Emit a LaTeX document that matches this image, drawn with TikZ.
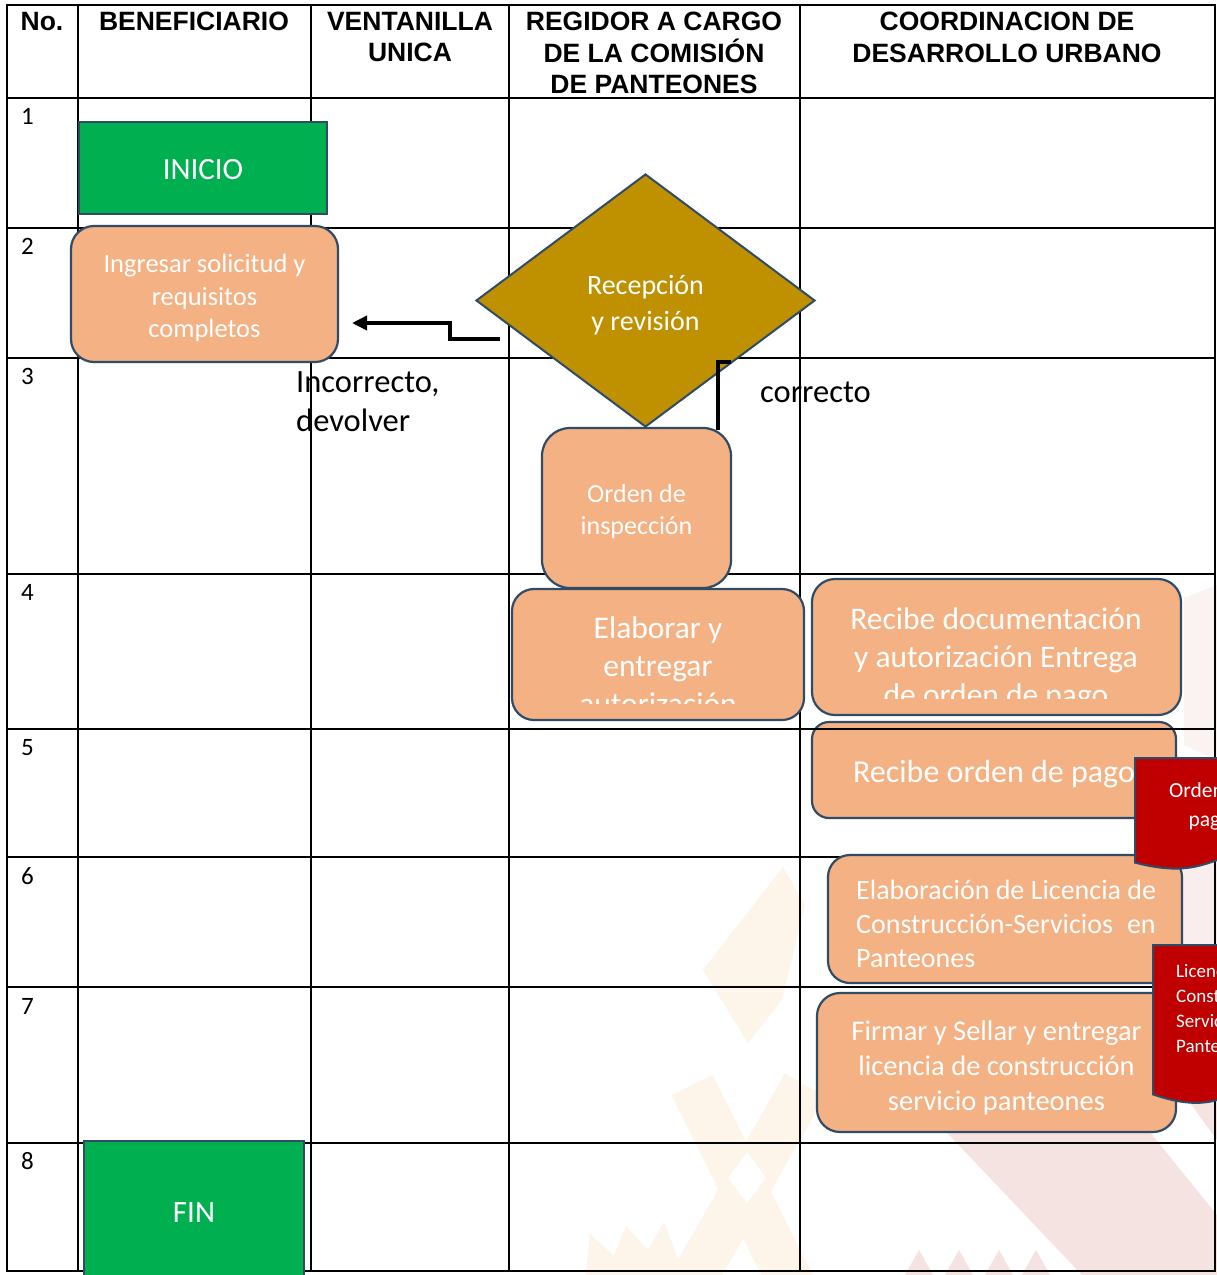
\documentclass[tikz,border=0pt]{standalone}
\usepackage{fontspec}
\setmainfont{Carlito}
\newfontfamily\hdr{Liberation Sans}
\usetikzlibrary{shapes.geometric,arrows.meta}
\definecolor{edge}{HTML}{2F4B66}
\definecolor{gbox}{HTML}{00B050}
\definecolor{obox}{HTML}{F4B183}
\definecolor{gold}{HTML}{BF9000}
\definecolor{rdoc}{HTML}{C00000}
\definecolor{beige}{HTML}{FDF4EA}
\definecolor{pinkw}{HTML}{F5E3E1}
\begin{document}
\begin{tikzpicture}[x=1pt,y=-1pt,
  tline/.style={line width=2.6pt,black,line cap=rect},
  hdrtxt/.style={font=\hdr\bfseries\fontsize{26.5}{31.5}\selectfont,align=center,inner sep=0pt,anchor=north},
  rownum/.style={font=\fontsize{25}{30}\selectfont,inner sep=0pt,anchor=base west},
  startend/.style={draw=edge,line width=2pt,fill=gbox,text=white,inner sep=0pt,font=\fontsize{31}{36}\selectfont},
  box/.style={draw=edge,line width=2.2pt,fill=obox,rounded corners=#1,inner sep=0pt},
  box/.default=22pt,
  bodytxt/.style={text=white,inner sep=0pt,align=center},
  docshape/.style={draw=edge,line width=2pt,fill=rdoc},
  conn/.style={line width=3.5pt,black},
  lbl/.style={inner sep=0pt,font=\fontsize{32.5}{39}\selectfont}
]
\path[use as bounding box,clip] (0,0) rectangle (1217,1275);
\fill[white] (0,0) rectangle (1217,1275);

% faint background watermark
\fill[beige] (783,867) -- (805,905) -- (782,1000) -- (748,1043) -- (703,970) -- cycle;
\draw[beige,line width=46pt] (692,1085) -- (792,1285);
\draw[beige,line width=46pt] (805,1085) -- (690,1285);
\fill[white] (747,1152) -- (766,1178) -- (747,1203) -- (728,1178) -- cycle;
\fill[beige] (586,1275) -- (590,1234) -- (614,1256) -- (626,1226) -- (648,1250) -- (664,1222) -- (684,1275) -- cycle;
\fill[pinkw] (935,1120) -- (1140,1120) -- (1217,1215) -- (1217,1275) -- (1082,1275) -- cycle;
\fill[pinkw] (1172,1078) -- (1217,1078) -- (1217,1140) -- cycle;
\foreach \tx in {905,945,985,1022}{
  \fill[pinkw] (\tx,1275) -- (\tx+14,1250) -- (\tx+28,1275) -- cycle;}
\fill[pinkw!60] (1183,860) -- (1217,860) -- (1217,945) -- (1183,945) -- cycle;
\fill[pinkw!45] (1184,598) -- (1217,585) -- (1217,760) -- (1184,745) -- cycle;

% table grid
\foreach \gx in {7,78,311,509,800,1215}{\draw[tline] (\gx,5) -- (\gx,1271);}
\foreach \gy in {5,98,228,358,574,729,857,987,1143,1271}{\draw[tline] (7,\gy) -- (1215,\gy);}

% headers
\node[hdrtxt] (hno) at (42,12) {No.};
\node[hdrtxt] (hben) at (194,12) {BENEFICIARIO};
\node[hdrtxt] (hven) at (410,12) {VENTANILLA\\UNICA};
\node[hdrtxt] (hreg) at (654,12) {REGIDOR A CARGO\\DE LA COMISIÓN\\DE PANTEONES};
\node[hdrtxt] (hcoo) at (1007,12) {COORDINACION DE\\DESARROLLO URBANO};

% row numbers
\node[rownum] (r1) at (21,124) {1};
\node[rownum] (r2) at (21,254) {2};
\node[rownum] (r3) at (21,384) {3};
\node[rownum] (r4) at (21,600) {4};
\node[rownum] (r5) at (21,755) {5};
\node[rownum] (r6) at (21,884) {6};
\node[rownum] (r7) at (21,1014) {7};
\node[rownum] (r8) at (21,1169) {8};

% shapes
\node[startend,minimum width=248pt,minimum height=92pt] (inicio) at (203,168) {};
\node[bodytxt,font=\fontsize{31}{36}\selectfont] (iniciot) at (203,170) {INICIO};

\node[box=23pt,minimum width=267pt,minimum height=136pt] (ing) at (204.5,294) {};
\node[bodytxt,font=\fontsize{26.5}{32.5}\selectfont] (ingt) at (204.5,298) {Ingresar solicitud y\\requisitos\\completos};

\node[diamond,draw=edge,line width=2pt,fill=gold,minimum width=339pt,minimum height=253pt,inner sep=0pt] (rev) at (645.5,300.5) {};
\node[bodytxt,font=\fontsize{28}{36}\selectfont] (revt) at (645.5,305) {Recepción\\y revisión};

\node[box=28pt,minimum width=189pt,minimum height=160pt] (orden) at (636.5,508) {};
\node[bodytxt,font=\fontsize{26}{32}\selectfont] (ordent) at (636.5,512) {Orden de\\inspección};

\node[box=22pt,minimum width=292pt,minimum height=131pt] (elab) at (658,654.5) {};
\begin{scope}
  \clip (512,589) rectangle (804,703);
  \node[bodytxt,font=\fontsize{31.5}{38}\selectfont] (elabt) at (658,666) {Elaborar y\\entregar\\autorización};
\end{scope}

\node[box=23pt,minimum width=369pt,minimum height=136pt] (recdoc) at (996.5,647) {};
\begin{scope}
  \clip (812,579) rectangle (1181,698);
  \node[bodytxt,font=\fontsize{31.5}{38}\selectfont] (recdoct) at (996,659) {Recibe documentación\\y autorización Entrega\\de orden de pago};
\end{scope}

\node[box=17pt,minimum width=364pt,minimum height=96pt] (recpago) at (994,770) {};
\node[bodytxt,font=\fontsize{32}{38}\selectfont] (recpagot) at (994,774) {Recibe orden de pago};

\node[box=22pt,minimum width=354pt,minimum height=128pt] (elablic) at (1005,919) {};
\node[bodytxt,align=left,anchor=west,font=\fontsize{28}{34}\selectfont] (elablict) at (856,924) {Elaboración de Licencia de\\Construcción-Servicios\hspace*{14pt}en\\Panteones};

\node[box=23pt,minimum width=359pt,minimum height=139pt] (firmar) at (996.5,1062.5) {};
\node[bodytxt,font=\fontsize{28.5}{35}\selectfont] (firmart) at (996.5,1068) {Firmar y Sellar y entregar\\licencia de construcción\\servicio panteones};

\node[startend,minimum width=220pt,minimum height=139pt] (fin) at (194,1210.5) {};
\node[bodytxt,font=\fontsize{31}{36}\selectfont] (fint) at (194,1213) {FIN};

% table line passing over the box
\draw[tline] (800,729) -- (1215,729);

% documents
\path[docshape] (1135,758) -- (1285,758) -- (1285,848) .. controls (1210,848) and (1210,882) .. (1135,862.6) -- cycle;
\node[bodytxt,font=\fontsize{21.5}{29}\selectfont] (doc1) at (1210,806) {Orden de\\pago};
\path[docshape] (1153,945) -- (1313,945) -- (1313,1073.3) .. controls (1233,1073.3) and (1233,1122) .. (1153,1094.4) -- cycle;
\node[bodytxt,align=left,anchor=west,font=\fontsize{19}{25}\selectfont] (doc2) at (1176,1008) {Licencia de\\Construcción-\\Servicios en\\Panteones};

% connectors
\coordinate (retS) at (500,339);
\coordinate (retE) at (352,323);
\draw[conn,-{Triangle[length=15pt,width=14pt]}] (retS) -- (450,339) |- (retE);
\coordinate (okS) at (718,430);
\coordinate (okE) at (731,362);
\draw[conn] (okS) |- (okE);

% labels
\node[lbl,anchor=north west,align=left] (inc) at (296,371) {Incorrecto,\\devolver};
\node[lbl,anchor=base west] (cor) at (760,402) {correcto};
\end{tikzpicture}
\end{document}
